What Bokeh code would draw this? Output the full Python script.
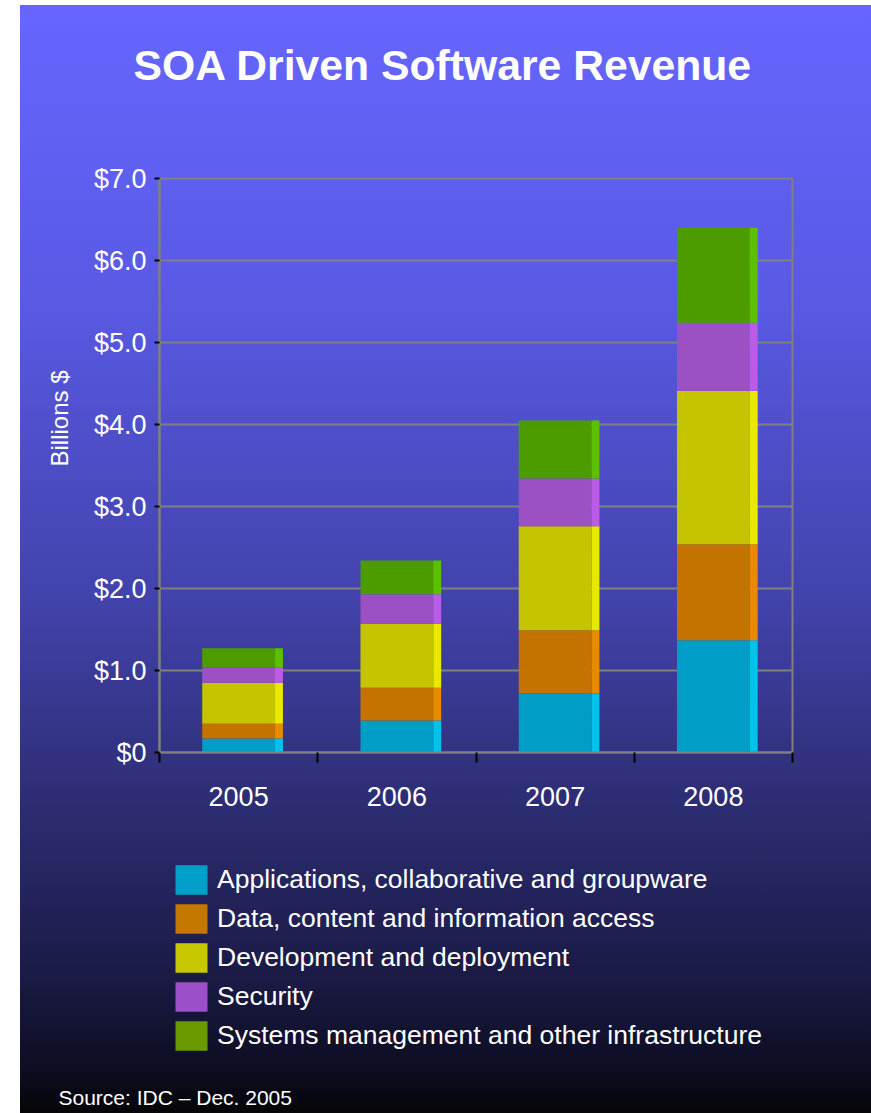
from bokeh.plotting import figure
from bokeh.layouts import column
from bokeh.models import (Range1d, FixedTicker, Legend, LegendItem, Title, ColumnDataSource)
from bokeh.embed import file_html
from bokeh.resources import INLINE

# ---------------- data ----------------
years = ["2005", "2006", "2007", "2008"]
segment_names = [
    "Applications, collaborative and groupware",
    "Data, content and information access",
    "Development and deployment",
    "Security",
    "Systems management and other infrastructure",
]
apps = [0.17, 0.39, 0.72, 1.37]
data_access = [0.18, 0.40, 0.77, 1.17]
development = [0.50, 0.78, 1.27, 1.87]
security = [0.19, 0.36, 0.58, 0.83]
systems = [0.23, 0.41, 0.71, 1.16]
y_ticks = [0, 1, 2, 3, 4, 5, 6, 7]
y_tick_labels = ["$0", "$1.0", "$2.0", "$3.0", "$4.0", "$5.0", "$6.0", "$7.0"]
title_text = "SOA Driven Software Revenue"
y_title = "Billions $"
source_note = "Source: IDC \u2013 Dec. 2005"

# ---------------- styles ----------------
keys = ["apps", "data_access", "development", "security", "systems"]
front_colors = ["#009ec6", "#c47300", "#c4c400", "#9b50c4", "#4c9c00"]
side_colors = ["#00c2ea", "#e88a00", "#e8e800", "#bb5ce8", "#5cc000"]
legend_colors = ["#00a0c8", "#c47800", "#c8c800", "#9b4fc8", "#6b9a00"]
FONT = "Liberation Sans"
GREY = "#808080"

n = len(years)
centers = [i + 0.5 for i in range(n)]          # category slot centres on the x scale
side_x = [c + 0.255 for c in centers]           # lighter side face of each 3-D bar
src = ColumnDataSource(dict(x=centers, xs=side_x, apps=apps, data_access=data_access,
                            development=development, security=security, systems=systems))

# ---------------- chart ----------------
p = figure(x_range=Range1d(0, n), y_range=Range1d(0, 7), title=None,
           width=851, height=817, output_backend="svg", toolbar_location=None,
           min_border_left=139, min_border_right=79,
           min_border_top=173, min_border_bottom=70)
p.border_fill_alpha = 0
p.background_fill_alpha = 0
p.outline_line_color = GREY
p.outline_line_width = 2

# title (a blank spacer title keeps it well above the frame)
p.add_layout(Title(text=" ", text_font_size="1px", standoff=87), "above")
p.add_layout(Title(text=title_text, text_font=FONT, text_font_size="42.7px",
                   text_font_style="bold", text_color="white", align="left",
                   offset=-26, standoff=0), "above")

# y axis
p.yaxis.ticker = FixedTicker(ticks=y_ticks)
p.yaxis.major_label_overrides = dict(zip(y_ticks, y_tick_labels))
p.yaxis.major_label_text_font = FONT
p.yaxis.major_label_text_font_size = "27px"
p.yaxis.major_label_text_color = "white"
p.yaxis.axis_line_color = GREY
p.yaxis.axis_line_width = 2
p.yaxis.major_tick_line_color = "black"
p.yaxis.major_tick_line_width = 2
p.yaxis.major_tick_out = 5
p.yaxis.major_tick_in = 0
p.yaxis.minor_tick_line_color = None
p.yaxis.major_label_standoff = 8
p.ygrid.grid_line_color = GREY
p.ygrid.grid_line_width = 2
p.xgrid.visible = False

p.add_layout(Title(text=y_title, text_font=FONT, text_font_size="24px", text_font_style="normal",
                   text_color="white", align="left", offset=286, standoff=36), "left")

# x axis: labels at slot centres, separator ticks at slot boundaries
p.xaxis.ticker = FixedTicker(ticks=centers, minor_ticks=list(range(n + 1)))
p.xaxis.major_label_overrides = dict(zip(centers, years))
p.xaxis.major_label_text_font = FONT
p.xaxis.major_label_text_font_size = "27px"
p.xaxis.major_label_text_color = "white"
p.xaxis.major_tick_line_color = None
p.xaxis.major_tick_out = 0
p.xaxis.major_tick_in = 0
p.xaxis.minor_tick_line_color = "black"
p.xaxis.minor_tick_line_width = 2
p.xaxis.minor_tick_out = 10
p.xaxis.minor_tick_in = 0
p.xaxis.axis_line_color = GREY
p.xaxis.axis_line_width = 2
p.xaxis.major_label_standoff = 24

# bars: front faces and lighter side faces
p.vbar_stack(keys, x="x", width=0.46, fill_color=front_colors, line_color=None, source=src)
p.vbar_stack(keys, x="xs", width=0.05, fill_color=side_colors, line_color=None, source=src)

# ---------------- legend + source panel ----------------
q = figure(x_range=Range1d(0, 1), y_range=Range1d(0, 1), title=None,
           width=851, height=291, output_backend="svg", toolbar_location=None,
           x_axis_type=None, y_axis_type=None, min_border=0)
q.border_fill_alpha = 0
q.background_fill_alpha = 0
q.outline_line_color = None

items = []
for name, c in zip(segment_names, legend_colors):
    # legend swatch proxy: a zero-height bar, so nothing is drawn in the panel itself
    r = q.vbar(x=[0.5], top=[0], bottom=[0], width=0.1, fill_color=c, line_color=None)
    items.append(LegendItem(label=name, renderers=[r]))
legend = Legend(items=items, location=(12, 24), background_fill_alpha=0, border_line_color=None,
                label_text_color="white", label_text_font=FONT, label_text_font_size="26.5px",
                glyph_width=40, glyph_height=37, label_height=30, spacing=2,
                padding=0, margin=0, label_standoff=6)
q.add_layout(legend, "center")

q.add_layout(Title(text=source_note, text_font=FONT, text_font_size="21px", text_font_style="normal",
                   text_color="white", align="left", offset=-101, standoff=10), "below")

page = column(p, q, spacing=0)
page.styles = {
    "margin-left": "20px",
    "margin-top": "5px",
    "background": "linear-gradient(to bottom, #6666ff 0%, #5959e4 27%, #4242ab 54%, #2d2d74 72%, #1a1a44 88%, #0d0d22 96%, #050508 100%)",
}

open("out.html", "w").write(file_html(page, INLINE))
